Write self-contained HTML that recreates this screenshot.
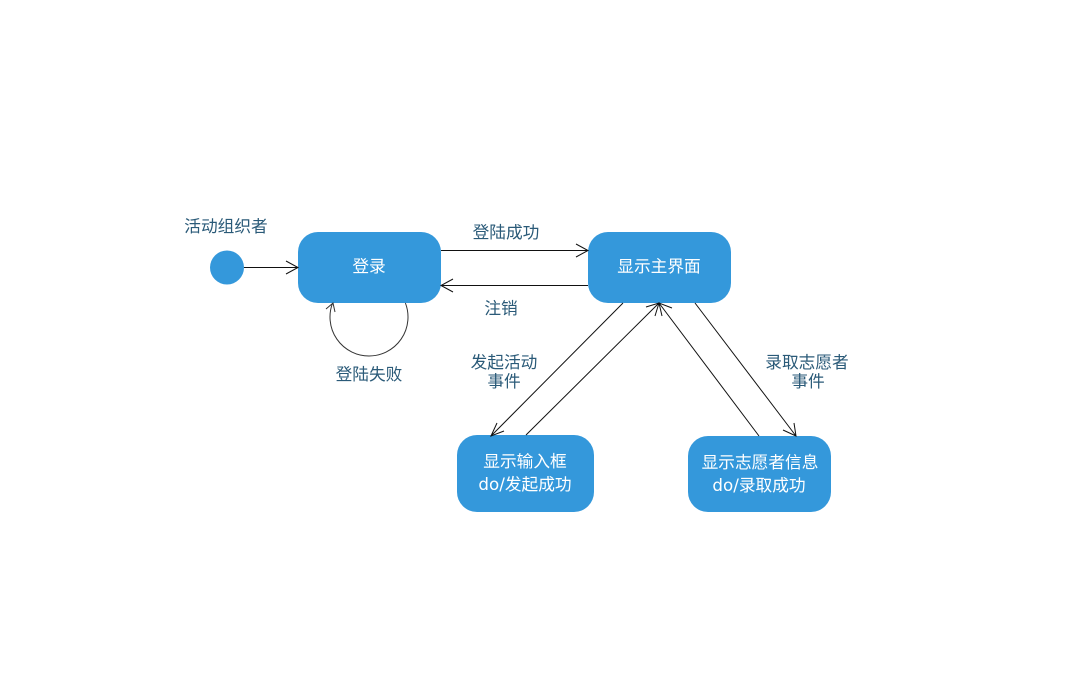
<!DOCTYPE html>
<html><head><meta charset="utf-8"><style>
html,body{margin:0;padding:0;background:#fff}
svg{display:block}
text{font-family:"DejaVu Sans","WenQuanYi Zen Hei","Noto Sans CJK SC",sans-serif;font-size:16.7px;text-anchor:middle}
.l{fill:#2a5a78}.w{fill:#fff}
.c{fill:none;stroke:#111;stroke-width:1}
</style></head><body>
<svg width="1084" height="681" viewBox="0 0 1084 681" xmlns="http://www.w3.org/2000/svg">
<rect width="1084" height="681" fill="#fff"/>
<circle cx="227" cy="267.500" r="17" fill="#3498db"/>
<rect x="298" y="232" width="143" height="71" rx="20" fill="#3498db"/>
<rect x="588" y="232" width="143" height="71" rx="20" fill="#3498db"/>
<rect x="457" y="435" width="137" height="77" rx="20" fill="#3498db"/>
<rect x="688" y="436" width="143" height="76" rx="20" fill="#3498db"/>
<path class="c" d="M244 267.500H298M286 261L298 267.500L286 274"/>
<path class="c" d="M441 250.500H588M576 244L588 250.500L576 257"/>
<path class="c" d="M588 285.500H441M453 279L441 285.500L453 292"/>
<path class="c" style="stroke:#333" d="M405.400 303A39 39 0 1 1 332.600 303M326 309L333 303L335 312"/>
<path class="c" d="M623 303L491 436M497 423L491 436L504 431"/>
<path class="c" d="M526 435L659 303M646 307L659 303L655 316"/>
<path class="c" d="M759 436L659 303M662 316L659 303L672 308"/>
<path class="c" d="M695 303L796 436M783 430L796 436L794 423"/>
<text class="l" x="226" y="232">活动组织者</text>
<text class="w" x="369" y="272">登录</text>
<text class="l" x="369" y="380">登陆失败</text>
<text class="l" x="506" y="238">登陆成功</text>
<text class="l" x="501" y="314">注销</text>
<text class="w" x="659" y="272">显示主界面</text>
<text class="l" x="504" y="368">发起活动</text>
<text class="l" x="504" y="387">事件</text>
<text class="l" x="807" y="368">录取志愿者</text>
<text class="l" x="808" y="387">事件</text>
<text class="w" x="525" y="467">显示输入框</text>
<text class="w" x="525" y="490">do/发起成功</text>
<text class="w" x="760" y="468">显示志愿者信息</text>
<text class="w" x="759" y="491">do/录取成功</text>
</svg>
</body></html>
